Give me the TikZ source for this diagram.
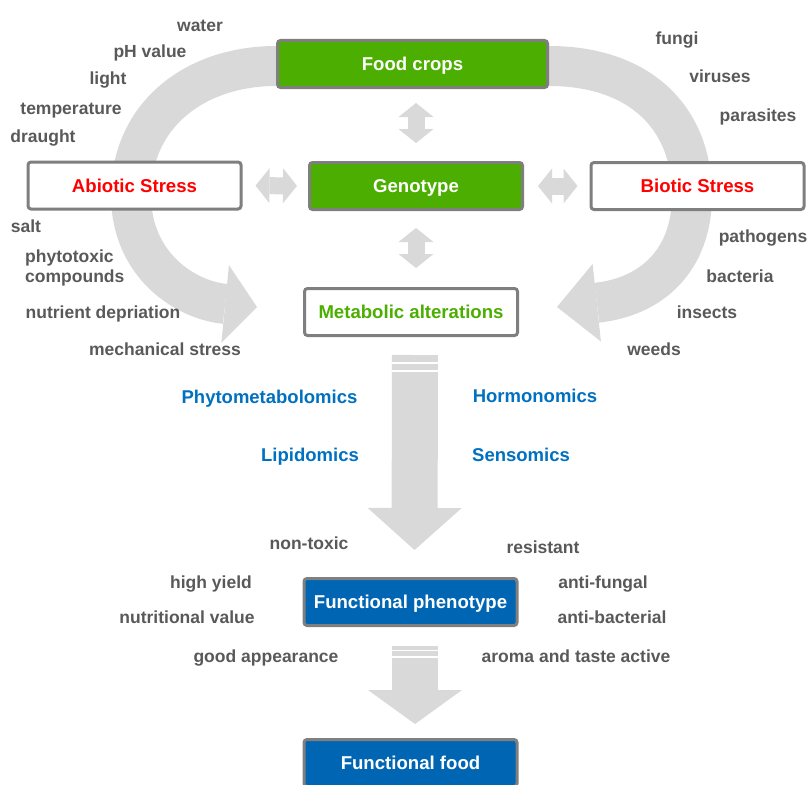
\documentclass[tikz,border=0pt]{standalone}
\usepackage{fontspec}
\setmainfont{Liberation Sans}
\usetikzlibrary{arrows.meta}
\pgfdeclarelayer{bg}
\pgfsetlayers{bg,main}
\definecolor{arrowgray}{HTML}{D9D9D9}
\definecolor{boxborder}{HTML}{7F7F7F}
\definecolor{cropgreen}{HTML}{4CAE00}
\definecolor{funcblue}{HTML}{0066B3}
\definecolor{labgray}{HTML}{595959}
\definecolor{omicsblue}{HTML}{0070C0}
\definecolor{stressred}{HTML}{FF0000}
\begin{document}
\begin{tikzpicture}[x=1pt,y=-1pt,
  box/.style={draw=boxborder, line width=3pt, rounded corners=3pt,
    minimum width=213pt, minimum height=47pt, inner sep=0pt,
    font=\fontsize{18.6}{22}\selectfont\bfseries, text height=13.4pt, text depth=0pt},
  greenbox/.style={box, fill=cropgreen, text=white},
  bluebox/.style={box, fill=funcblue, text=white},
  whitebox/.style={box, fill=white},
  lab/.style={anchor=base, text=labgray, font=\fontsize{17.5}{20}\selectfont\bfseries, inner sep=0pt},
  omics/.style={anchor=base, text=omicsblue, font=\fontsize{18.5}{22}\selectfont\bfseries, inner sep=0pt},
  curvearrow/.style={draw=arrowgray, line width=40pt},
  dblarrow/.style={draw=arrowgray, line width=17pt,
    {Triangle[width=35pt,length=14pt,line width=0pt]}-{Triangle[width=35pt,length=14pt,line width=0pt]}},
  bigdown/.style={draw=arrowgray, line width=46pt, -{Triangle[width=94pt,length=42pt,line width=0pt]}},
  smalldown/.style={draw=arrowgray, line width=46pt, -{Triangle[width=94pt,length=34pt,line width=0pt]}},
  stripe/.style={draw=white, line width=1.6pt}
]
\useasboundingbox (0,0) rectangle (810,784);

% boxes
\node[greenbox, minimum width=270pt] (fc) at (412.5,64) {Food crops};
\node[greenbox] (geno) at (416,186) {Genotype};
\node[whitebox, text=cropgreen] (ma) at (411,312) {Metabolic alterations};
\node[whitebox, text=stressred] (abio) at (134.5,185.5) {Abiotic Stress};
\node[whitebox, text=stressred] (bio) at (697.5,186) {Biotic Stress};
\node[bluebox] (fp) at (410.5,602) {Functional phenotype};
\node[bluebox] (ff) at (410.5,763) {Functional food};

\coordinate (ltip) at (257,307);
\coordinate (rtip) at (557,307);

% curved arrows (behind the boxes)
\begin{pgfonlayer}{bg}
\draw[curvearrow, -{Triangle[width=78pt,length=32pt,line width=0pt]}]
  ([yshift=-2pt]fc.west) .. controls (195,66) and (131,115) .. (131,195)
  .. controls (131,265) and (185,300) .. (ltip);
\draw[curvearrow, -{Triangle[width=78pt,length=40pt,line width=0pt]}]
  ([yshift=-2pt]fc.east) .. controls (640,66) and (692,118) .. (692,195)
  .. controls (692,262) and (650,297) .. (rtip);
\end{pgfonlayer}

% double arrows
\draw[dblarrow, shorten <=14pt, shorten >=18pt] (geno.north |- fc.south) -- (geno.north);
\draw[dblarrow, shorten <=17pt, shorten >=19pt] (geno.south) -- (geno.south |- ma.north);
\draw[dblarrow, shorten <=13pt, shorten >=11pt] (abio.east) -- (geno.west);
\draw[dblarrow, shorten <=14pt, shorten >=12pt] (geno.east) -- (bio.west);

% downward arrows
\draw[bigdown, shorten <=18pt, shorten >=27pt] ([xshift=4pt]ma.south) -- ([xshift=4pt]fp.north);
\draw[stripe] (392,363) -- (438,363);
\draw[stripe] (392,371) -- (438,371);
\draw[smalldown, shorten <=19pt, shorten >=14pt] ([xshift=4.5pt]fp.south) -- ([xshift=4.5pt]ff.north);
\draw[stripe] (392,650.5) -- (438,650.5);
\draw[stripe] (392,657) -- (438,657);

% abiotic labels
\node[lab] (l1) at (200,31.5) {water};
\node[lab] (l2) at (150,58) {pH value};
\node[lab] (l3) at (108,84.5) {light};
\node[lab] (l4) at (71,114) {temperature};
\node[lab] (l5) at (43,142.5) {draught};
\node[lab] (l6) at (26,232) {salt};
\node[lab, anchor=west, align=left] (l7) at (25,267.5) {phytotoxic\\compounds};
\node[lab] (l8) at (103,318) {nutrient depriation};
\node[lab] (l9) at (165,355) {mechanical stress};

% biotic labels
\node[lab] (r1) at (677,45) {fungi};
\node[lab] (r2) at (720,82) {viruses};
\node[lab] (r3) at (758,121.5) {parasites};
\node[lab] (r4) at (763,242.5) {pathogens};
\node[lab] (r5) at (740,282) {bacteria};
\node[lab] (r6) at (707,318) {insects};
\node[lab] (r7) at (654,355) {weeds};

% omics
\node[omics] (o1) at (269.5,403) {Phytometabolomics};
\node[omics] (o2) at (535,402) {Hormonomics};
\node[omics] (o3) at (310,461.5) {Lipidomics};
\node[omics] (o4) at (521,461.5) {Sensomics};

% phenotype labels
\node[lab] (p1) at (309,549) {non-toxic};
\node[lab] (p2) at (543,553) {resistant};
\node[lab] (p3) at (211,588) {high yield};
\node[lab] (p4) at (603,588.5) {anti-fungal};
\node[lab] (p5) at (187,623) {nutritional value};
\node[lab] (p6) at (612,623) {anti-bacterial};
\node[lab] (p7) at (266,662.5) {good appearance};
\node[lab] (p8) at (576,662) {aroma and taste active};
\end{tikzpicture}
\end{document}
